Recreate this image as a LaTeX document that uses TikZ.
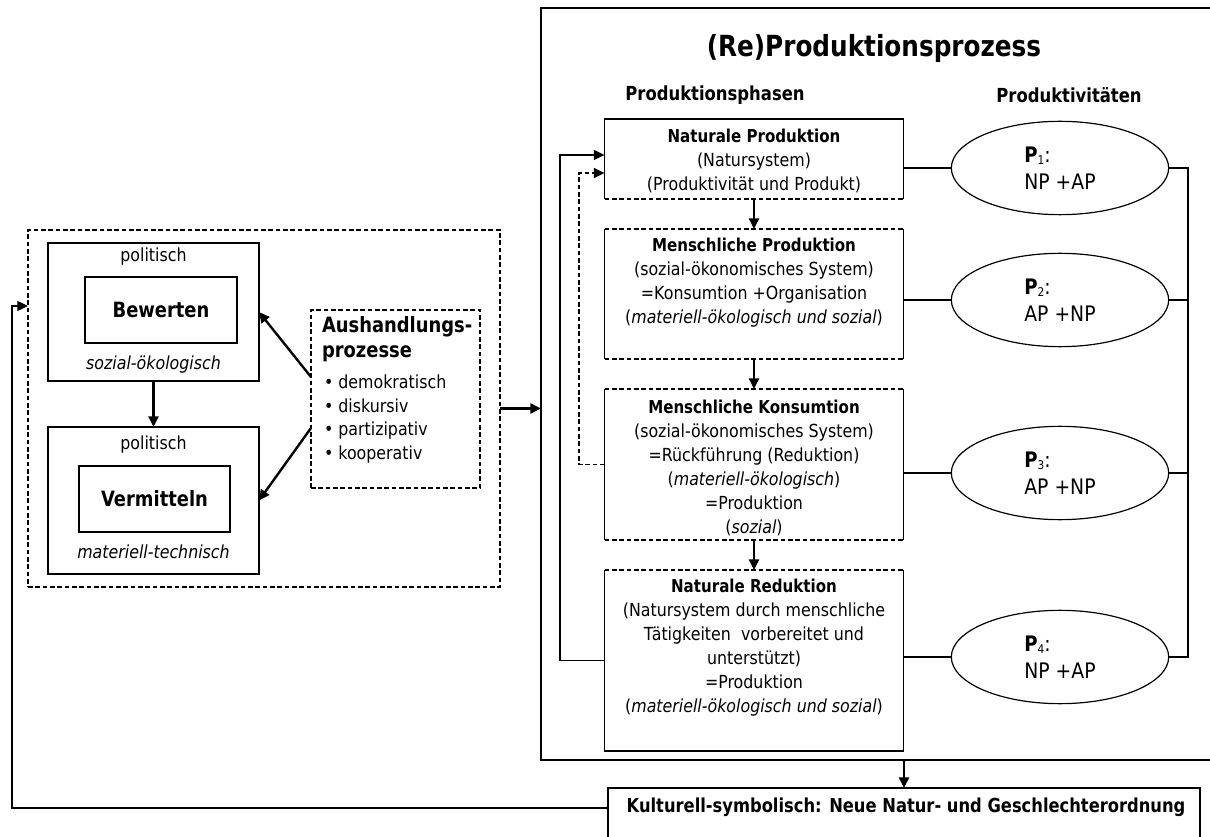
\documentclass[tikz,border=0pt]{standalone}
\usepackage{fontspec}
\setmainfont{DejaVu Sans}[FakeStretch=0.88,BoldFeatures={FakeStretch=0.85}]
\usetikzlibrary{shapes.geometric,arrows.meta,calc}
\begin{document}
\begin{tikzpicture}[x=0.75pt,y=-0.75pt,
  every node/.style={inner sep=0pt, outer sep=0pt},
  sbox/.style={draw, line width=1.4pt},
  dbox/.style={draw, line width=1.4pt, dash pattern=on 3.5pt off 2pt},
  solidl/.style={line width=1.4pt},
  dashl/.style={line width=1.4pt, dash pattern=on 3.5pt off 2pt},
  arr/.style={line width=1.8pt, -{Triangle[length=8pt,width=7.5pt]}},
  thinarr/.style={line width=1pt, -{Triangle[length=8pt,width=7.5pt]}},
  conn/.style={line width=0.9pt},
  tx/.style={font=\fontsize{13.5}{18}\selectfont, align=center},
  itx/.style={font=\itshape\fontsize{13.5}{18}\selectfont, align=center},
  bx/.style={font=\bfseries\fontsize{14.4}{18}\selectfont, align=center},
  bigb/.style={font=\bfseries\fontsize{15.8}{18}\selectfont},
  head/.style={font=\bfseries\fontsize{14.5}{18}\selectfont},
  ell/.style={draw, ellipse, line width=0.9pt, minimum width=163pt, minimum height=70pt},
  etx/.style={font=\fontsize{16}{20}\selectfont, align=left}
]
\useasboundingbox (0,0) rectangle (1210,837);

% ---------- left part ----------
\node[dbox, minimum width=354pt, minimum height=267.75pt] (lbox) at (264,408.5) {};
\node[sbox, minimum width=158.25pt, minimum height=103.5pt] (bew) at (153.5,312) {};
\node[sbox, minimum width=114pt, minimum height=49.5pt] (bewi) at (161,310) {};
\node[tx] (bewp) at (153.5,257) {politisch};
\node[bigb] (bewt) at (bewi) {Bewerten};
\node[itx] (bews) at (153.5,365) {sozial-ökologisch};

\node[sbox, minimum width=158.25pt, minimum height=110.25pt] (verm) at (153.5,500.5) {};
\node[sbox, minimum width=113.25pt, minimum height=49.5pt] (vermi) at (154.5,499) {};
\node[tx] (vermp) at (153.5,445) {politisch};
\node[bigb] (vermt) at (vermi) {Vermitteln};
\node[itx] (verms) at (153.5,552) {materiell-technisch};

\node[dbox, minimum width=126.75pt, minimum height=133.5pt] (aush) at (395.5,399) {};
\node[font=\bfseries\fontsize{15.8}{18}\selectfont, anchor=west] (ah1) at (322,327) {Aushandlungs-};
\node[font=\bfseries\fontsize{15.8}{18}\selectfont, anchor=west] (ah2) at (322,354) {prozesse};
\node[tx, anchor=west] (ab1) at (324,382) {• demokratisch};
\node[tx, anchor=west] (ab2) at (324,406) {• diskursiv};
\node[tx, anchor=west] (ab3) at (324,431) {• partizipativ};
\node[tx, anchor=west] (ab4) at (324,455) {• kooperativ};

\draw[arr] (bew.south) -- (verm.north);
\draw[arr] ($(aush.west)+(0,-22)$) -- (bew.east);
\draw[arr] ($(aush.west)+(0,29)$) -- (verm.east);

% ---------- big box ----------
\node[minimum width=509.25pt, minimum height=564pt] (big) at (880.5,384) {};
\draw[solidl] (big.north east) -- (big.north west) -- (big.south west) -- (big.south east);
\node[font=\bfseries\fontsize{21.8}{24}\selectfont] (title) at (874,48) {(Re)Produktionsprozess};
\node[head] (h1) at (715,95) {Produktionsphasen};
\node[head] (h2) at (1069,95) {Produktivitäten};

\node[minimum width=224.25pt, minimum height=60pt] (b1) at (754,159) {};
\node[minimum width=224.25pt, minimum height=97.5pt] (b2) at (754,294) {};
\node[minimum width=224.25pt, minimum height=113.25pt] (b3) at (754,464.5) {};
\node[minimum width=224.25pt, minimum height=135.75pt] (b4) at (754,660.5) {};

\draw[solidl] (b1.south west) -- (b1.north west) -- (b1.north east) -- (b1.south east);
\draw[dashl] (b1.south west) -- (b1.south east);
\draw[solidl] (b2.north west) -- (b2.south west) (b2.north east) -- (b2.south east);
\draw[dashl] (b2.north west) -- (b2.north east) (b2.south west) -- (b2.south east);
\draw[solidl] (b3.north west) -- (b3.south west) (b3.north east) -- (b3.south east);
\draw[dashl] (b3.north west) -- (b3.north east) (b3.south west) -- (b3.south east);
\draw[solidl] (b4.north west) -- (b4.south west) -- (b4.south east) -- (b4.north east);
\draw[dashl] (b4.north west) -- (b4.north east);

\newcommand{\bt}[1]{{\bfseries\fontsize{13.3}{18}\selectfont #1}}
\node[tx] (t1) at ($(b1.north)+(0,42)$) {\bt{Naturale Produktion}\\(Natursystem)\\(Produktivität und Produkt)};
\node[tx] (t2) at ($(b2.north)+(0,54)$) {\bt{Menschliche Produktion}\\(sozial-ökonomisches System)\\=Konsumtion +Organisation\\(\textit{materiell-ökologisch und sozial})};
\node[tx] (t3) at ($(b3.north)+(0,79)$) {\bt{Menschliche Konsumtion}\\(sozial-ökonomisches System)\\=Rückführung (Reduktion)\\(\textit{materiell-ökologisch})\\=Produktion\\(\textit{sozial})};
\node[tx] (t4) at ($(b4.north)+(0,78)$) {\bt{Naturale Reduktion}\\(Natursystem durch menschliche\\Tätigkeiten\ \ vorbereitet und\\unterstützt)\\=Produktion\\(\textit{materiell-ökologisch und sozial})};

\draw[arr] (b1.south) -- (b2.north);
\draw[arr] (b2.south) -- (b3.north);
\draw[arr] (b3.south) -- (b4.north);

% ellipses
\node[ell] (p1) at (1060,168) {};
\node[ell] (p2) at (1060,300) {};
\node[ell] (p3) at (1060,473) {};
\node[ell] (p4) at (1060,657) {};
\newcommand{\pp}[1]{\textbf{P}{\fontsize{9}{9}\selectfont\raisebox{-0.25ex}{#1}}:}
\node[etx] (e1) at (p1) {\pp{1}\\NP +AP};
\node[etx] (e2) at (p2) {\pp{2}\\AP +NP};
\node[etx] (e3) at (p3) {\pp{3}\\AP +NP};
\node[etx] (e4) at (p4) {\pp{4}\\NP +AP};

\draw[conn] (p1.west) -- (p1.west -| b1.east);
\draw[conn] (p2.west) -- (p2.west -| b2.east);
\draw[conn] (p3.west) -- (p3.west -| b3.east);
\draw[conn] (p4.west) -- (p4.west -| b4.east);
\coordinate (rx) at (1188,400);
\draw[conn] (p1.east) -| (rx |- p4.east) -- (p4.east);
\draw[conn] (p2.east) -- (p2.east -| rx);
\draw[conn] (p3.east) -- (p3.east -| rx);

% loops
\coordinate (ta) at ($(b1.west)+(0,-4)$);
\coordinate (tb) at ($(b1.west)+(0,14)$);
\coordinate (lx1) at (560,400);
\coordinate (lx2) at (579,400);
\draw[thinarr] (b4.west) -| (lx1) |- (ta);
\draw[thinarr, dash pattern=on 3.5pt off 2pt, line width=1.3pt] (b3.west) -| (lx2) |- (tb);

% bottom box
\node[sbox, minimum width=444pt, minimum height=69pt] (kult) at (904,834) {};
\node[bx] (kt) at (906,807) {Kulturell-symbolisch: Neue Natur- und Geschlechterordnung};
\draw[arr] (kult.north |- big.south) -- (kult.north);

% connections left
\draw[arr] (lbox.east) -- (lbox.east -| big.west);
\coordinate (fb) at (12,306);
\draw[thinarr] ($(kult.north west)+(0,20)$) -| (fb) -- (fb -| lbox.west);
\end{tikzpicture}
\end{document}
